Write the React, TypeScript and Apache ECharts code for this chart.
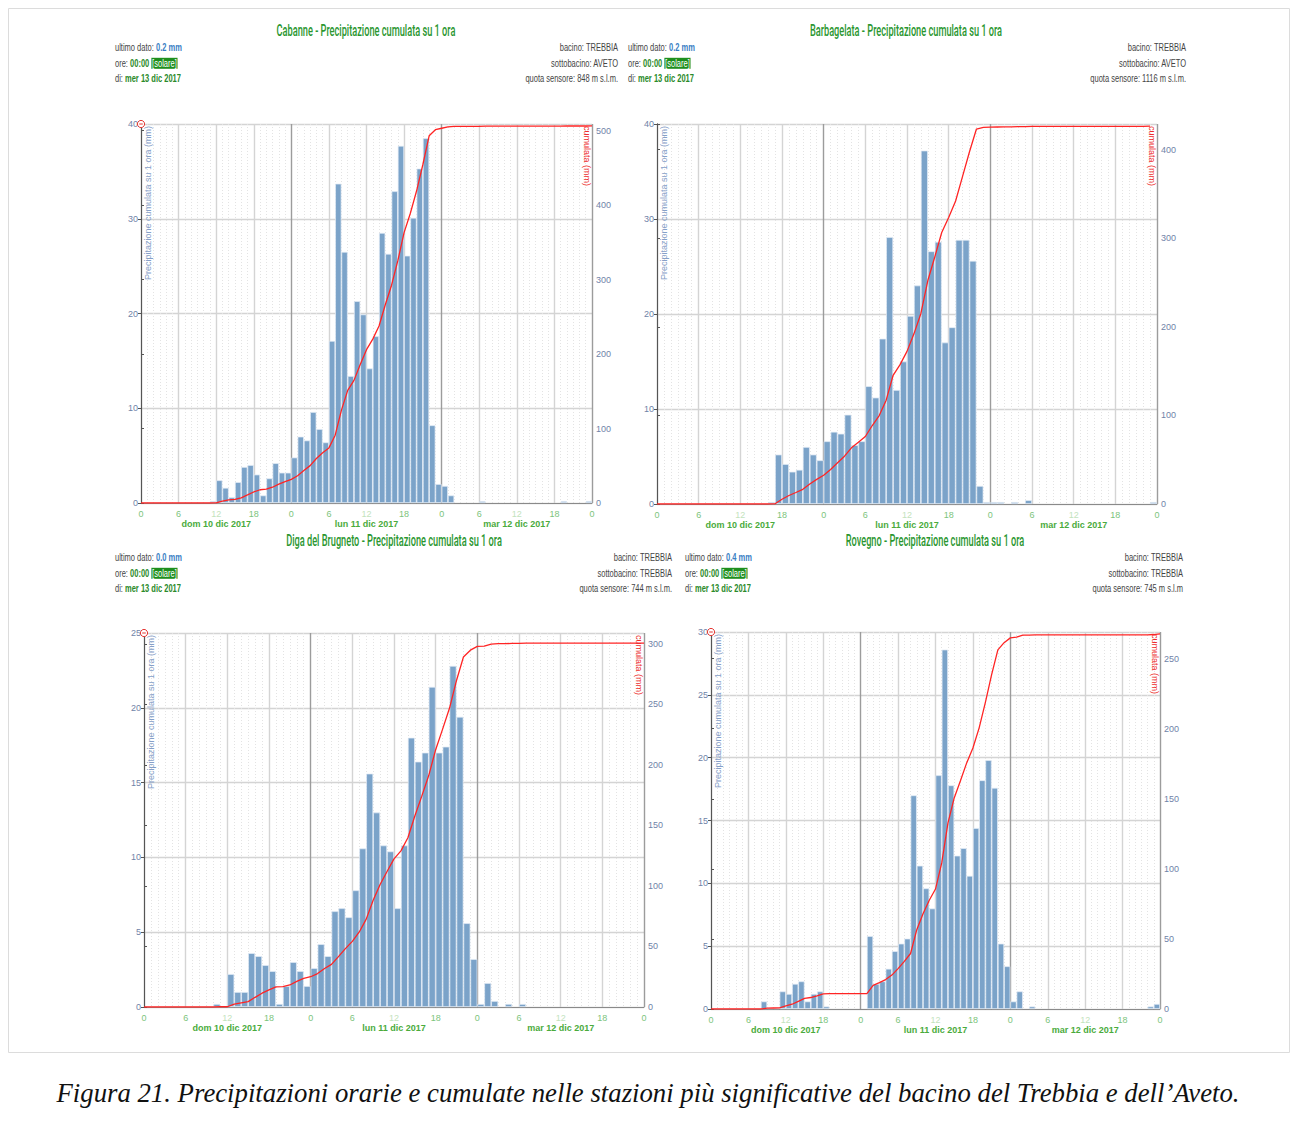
import React, { useEffect, useRef } from "react";
import * as echarts from "echarts";

// ---- data (hourly precipitation, mm; hour 0 = dom 10 dic 2017 00:00) ----
const CABANNE_HOURLY = [
  0, 0, 0, 0, 0, 0, 0, 0, 0, 0, 0,
  0.2, 2.4, 1.6, 0.6, 2.2, 3.8, 4.0, 3.0, 0.8, 2.6, 4.2, 3.2, 3.2,
  4.8, 7.0, 6.6, 9.6, 7.8, 6.4, 17.1, 33.7, 26.5, 13.4, 21.3, 19.9,
  14.2, 17.6, 28.5, 26.3, 32.9, 37.7, 26.1, 30.1, 35.3, 38.5, 8.2, 2.0,
  1.8, 0.8, 0, 0, 0, 0, 0.2, 0, 0, 0, 0, 0,
  0, 0, 0, 0, 0, 0, 0, 0.2, 0, 0, 0, 0.2,
];
const CABANNE_CUMUL = [
  0, 0, 0, 0, 0, 0, 0, 0, 0, 0, 0, 0,
  0.2, 2.6, 4.2, 4.8, 7.0, 10.8, 14.8, 17.8, 18.6, 21.2, 25.4, 28.6,
  31.8, 36.6, 43.6, 50.2, 59.8, 67.6, 74.0, 91.1, 124.8, 151.3, 164.7, 186.0,
  205.9, 220.1, 237.7, 266.2, 292.5, 325.4, 363.1, 389.2, 419.3, 454.6, 493.1, 501.3,
  503.3, 505.1, 505.9, 505.9, 505.9, 505.9, 505.9, 506.1, 506.1, 506.1, 506.1, 506.1,
  506.1, 506.1, 506.1, 506.1, 506.1, 506.1, 506.1, 506.1, 506.3, 506.3, 506.3, 506.3, 506.5,
];
const BARBAGELATA_HOURLY = [
  0, 0, 0, 0, 0, 0, 0, 0, 0, 0, 0, 0, 0, 0, 0, 0,
  0.2, 5.2, 4.2, 3.4, 3.6, 6.0, 5.2, 4.6, 6.6, 7.6, 7.4, 9.4,
  6.2, 6.6, 12.4, 11.2, 17.4, 28.1, 12.0, 15.0, 19.8, 23.0, 37.2, 26.6,
  27.6, 17.0, 18.6, 27.8, 27.8, 25.6, 1.9, 0.2, 0.2, 0.2, 0, 0.2,
  0, 0.4, 0, 0, 0, 0, 0, 0, 0, 0, 0, 0, 0, 0, 0, 0, 0, 0, 0, 0.2,
];
const BARBAGELATA_CUMUL = [
  0, 0, 0, 0, 0, 0, 0, 0, 0, 0, 0, 0, 0, 0, 0, 0, 0,
  0.2, 5.4, 9.6, 13.0, 16.6, 22.6, 27.8, 32.4, 39.0, 46.6, 54.0, 63.4,
  69.6, 76.2, 88.6, 99.8, 117.2, 145.3, 157.3, 172.3, 192.1, 215.1, 252.3, 278.9,
  306.5, 323.5, 342.1, 369.9, 397.7, 423.3, 425.2, 425.4, 425.6, 425.8, 425.8, 426.0,
  426.0, 426.4, 426.4, 426.4, 426.4, 426.4, 426.4, 426.4, 426.4, 426.4, 426.4, 426.4,
  426.4, 426.4, 426.4, 426.4, 426.4, 426.4, 426.6,
];
const BRUGNETO_HOURLY = [
  0, 0, 0, 0, 0, 0, 0, 0, 0, 0,
  0.2, 0, 2.2, 1.0, 1.0, 3.6, 3.4, 2.8, 2.4, 0.2, 1.4, 3.0,
  2.4, 1.4, 2.6, 4.2, 3.4, 6.4, 6.6, 6.0, 7.8, 10.6, 15.6, 13.0,
  10.8, 10.4, 6.6, 10.8, 18.0, 16.4, 17.0, 21.4, 17.0, 17.4, 22.8, 19.4,
  5.6, 3.2, 0.2, 1.6, 0.4, 0, 0.2, 0, 0.2, 0, 0, 0,
  0, 0, 0, 0, 0, 0, 0, 0, 0, 0, 0, 0, 0, 0,
];
const BRUGNETO_CUMUL = [
  0, 0, 0, 0, 0, 0, 0, 0, 0, 0, 0,
  0.2, 0.2, 2.4, 3.4, 4.4, 8.0, 11.4, 14.2, 16.6, 16.8, 18.2, 21.2,
  23.6, 25.0, 27.6, 31.8, 35.2, 41.6, 48.2, 54.2, 62.0, 72.6, 88.2, 101.2,
  112.0, 122.4, 129.0, 139.8, 157.8, 174.2, 191.2, 212.6, 229.6, 247.0, 269.8, 289.2,
  294.8, 298.0, 298.2, 299.8, 300.2, 300.2, 300.4, 300.4, 300.6, 300.6, 300.6, 300.6,
  300.6, 300.6, 300.6, 300.6, 300.6, 300.6, 300.6, 300.6, 300.6, 300.6, 300.6, 300.6, 300.6, 300.6,
];
const ROVEGNO_HOURLY = [
  0, 0, 0, 0, 0, 0, 0, 0,
  0.6, 0.1, 0.1, 1.4, 1.2, 2.0, 2.2, 0.6, 1.2, 1.4, 0.2, 0,
  0, 0, 0, 0, 0, 5.8, 2.0, 2.2, 3.2, 4.6, 5.2, 5.6,
  17.0, 11.4, 9.6, 8.0, 18.6, 28.6, 17.8, 12.2, 12.8, 10.6, 14.4, 18.2,
  19.8, 17.6, 5.2, 3.4, 0.6, 1.4, 0, 0.2, 0, 0, 0, 0,
  0, 0, 0, 0, 0, 0, 0, 0, 0, 0, 0, 0, 0, 0, 0.2, 0.4,
];
const ROVEGNO_CUMUL = [
  0, 0, 0, 0, 0, 0, 0, 0, 0,
  0.6, 0.7, 0.8, 2.2, 3.4, 5.4, 7.6, 8.2, 9.4, 10.8, 11.0, 11.0,
  11.0, 11.0, 11.0, 11.0, 11.0, 16.8, 18.8, 21.0, 24.2, 28.8, 34.0, 39.6,
  56.6, 68.0, 77.6, 85.6, 104.2, 132.8, 150.6, 162.8, 175.6, 186.2, 200.6, 218.8,
  238.6, 256.2, 261.4, 264.8, 265.4, 266.8, 266.8, 267.0, 267.0, 267.0, 267.0, 267.0,
  267.0, 267.0, 267.0, 267.0, 267.0, 267.0, 267.0, 267.0, 267.0, 267.0, 267.0, 267.0, 267.0, 267.0, 267.2, 267.6,
];

const HOURLY = [CABANNE_HOURLY, BARBAGELATA_HOURLY, BRUGNETO_HOURLY, ROVEGNO_HOURLY];
const CUMUL = [CABANNE_CUMUL, BARBAGELATA_CUMUL, BRUGNETO_CUMUL, ROVEGNO_CUMUL];

const HOUR_TICK_LABELS = ["0", "6", "12", "18", "0", "6", "12", "18", "0", "6", "12", "18", "0"];
const DAY_TICK_HOURS = [12, 36, 60];
const DAY_LABELS = ["dom 10 dic 2017", "lun 11 dic 2017", "mar 12 dic 2017"];

const STATIONS = ["Cabanne", "Barbagelata", "Diga del Brugneto", "Rovegno"];
const LAST_VALUES = ["0.2 mm", "0.2 mm", "0.0 mm", "0.4 mm"];
const BACINI = ["TREBBIA", "TREBBIA", "TREBBIA", "TREBBIA"];
const SOTTOBACINI = ["AVETO", "AVETO", "TREBBIA", "TREBBIA"];
const QUOTE = ["848 m s.l.m.", "1116 m s.l.m.", "744 m s.l.m.", "745 m s.l.m"];
const LEFT_MAX = [40, 40, 25, 30];
const LEFT_STEP = [10, 10, 5, 5];
const RIGHT_MAX = [509, 429, 309, 269];
const RIGHT_STEP = [100, 100, 50, 50];

const CAPTION =
  "Figura 21. Precipitazioni orarie e cumulate nelle stazioni più significative del bacino del Trebbia e dell\u2019Aveto.";

// ---- layout (positions / sizes) ----
const LAYOUT = [
  { grid: { left: 141, top: 124, width: 451, height: 379 }, titleX: 366, titleY: 30, infoL: 115, infoR: 618, infoY: 48, marker: true },
  { grid: { left: 657, top: 124, width: 500, height: 380 }, titleX: 906, titleY: 30, infoL: 628, infoR: 1186, infoY: 48, marker: false },
  { grid: { left: 144, top: 633, width: 500, height: 374 }, titleX: 394, titleY: 540, infoL: 115, infoR: 672, infoY: 558, marker: true },
  { grid: { left: 711, top: 632, width: 449, height: 377 }, titleX: 935, titleY: 540, infoL: 685, infoR: 1183, infoY: 558, marker: true },
];

function measure(text: string, font: string): number {
  const c = document.createElement("canvas").getContext("2d");
  if (!c) return text.length * 6;
  c.font = font;
  return c.measureText(text).width;
}

function buildOption() {
  const titleFont = '500 17px Roboto';
  const titleScale = 179 / measure(STATIONS[0] + " - Precipitazione cumulata su 1 ora", titleFont);
  const infoScale = 66 / measure("ultimo dato: 0.2 mm", '10px "Liberation Sans"');
  const capSize = (20 * 1183) / measure(CAPTION, 'italic 20px "Liberation Serif"');

  const grids: any[] = [];
  const xAxes: any[] = [];
  const yAxes: any[] = [];
  const series: any[] = [];
  const graphics: any[] = [];

  const sans = '"Liberation Sans", Arial, sans-serif';
  const narrow = '"Liberation Sans Narrow", "Arial Narrow", "Liberation Sans", Arial, sans-serif';

  graphics.push({
    type: "rect",
    z: -10,
    shape: { x: 8.5, y: 8.5, width: 1281, height: 1044 },
    style: { fill: "none", stroke: "#dcdcdc", lineWidth: 1 },
  });

  LAYOUT.forEach((L, i) => {
    const { left, top, width } = L.grid;
    const right = left + width;
    grids.push({ ...L.grid, containLabel: false, outerBoundsMode: "none" });

    xAxes.push({
      type: "value",
      gridIndex: i,
      min: 0,
      max: 72,
      interval: 6,
      axisLine: { show: true, lineStyle: { color: "#8a8a8a", width: 1 } },
      axisTick: { show: false },
      axisLabel: {
        fontSize: 9,
        lineHeight: 10,
        fontFamily: sans,
        color: "#7cc47c",
        margin: 6,
        formatter: (v: number) => {
          const lab = HOUR_TICK_LABELS[Math.round(v / 6)] ?? "";
          return DAY_TICK_HOURS.indexOf(v) >= 0 ? "{l|" + lab + "}" : lab;
        },
        rich: { l: { color: "#c3e3bd", fontSize: 9, lineHeight: 10, fontFamily: sans } },
      },
      splitLine: { show: true, lineStyle: { color: ["#9c9c9c", "#d4d4d4", "#d4d4d4", "#d4d4d4"], width: 1.4 } },
      minorTick: { show: false, splitNumber: 6 },
      minorSplitLine: { show: true, lineStyle: { color: "#e3e3e3", type: [1, 2], width: 1 } },
    });
    xAxes.push({
      type: "value",
      gridIndex: i,
      min: 0,
      max: 72,
      position: "bottom",
      axisLine: { show: false },
      axisTick: { show: false },
      splitLine: { show: false },
      axisLabel: {
        customValues: DAY_TICK_HOURS,
        formatter: (v: number) => DAY_LABELS[DAY_TICK_HOURS.indexOf(v)] ?? "",
        color: "#4aab3c",
        fontWeight: "bold",
        fontSize: 9,
        lineHeight: 10,
        fontFamily: narrow,
        margin: 16,
      },
    });

    yAxes.push({
      type: "value",
      gridIndex: i,
      position: "left",
      min: 0,
      max: LEFT_MAX[i],
      interval: LEFT_STEP[i],
      axisLine: { show: true, lineStyle: { color: "#555", width: 1 } },
      axisTick: { show: true, length: 3, lineStyle: { color: "#555" } },
      axisLabel: { color: "#7083a8", fontSize: 9, fontFamily: sans, margin: 3 },
      splitLine: { show: true, lineStyle: { color: "#d4d4d4", width: 1.4 } },
    });
    yAxes.push({
      type: "value",
      gridIndex: i,
      position: "right",
      min: 0,
      max: RIGHT_MAX[i],
      interval: RIGHT_STEP[i],
      axisLine: { show: true, lineStyle: { color: "#555", width: 1 } },
      axisTick: { show: true, length: 3, lineStyle: { color: "#555" } },
      axisLabel: {
        color: "#7083a8",
        fontSize: 9,
        fontFamily: sans,
        margin: 4,
        formatter: (v: number) => (Math.abs(v % RIGHT_STEP[i]) < 1e-6 ? String(v) : ""),
      },
      splitLine: { show: false },
    });

    series.push({
      type: "bar",
      xAxisIndex: 2 * i,
      yAxisIndex: 2 * i,
      barWidth: "100%",
      data: HOURLY[i].map((v, h) => [h + 0.5, v === 0 ? "-" : v]),
      itemStyle: { color: "#7ba3c9", borderColor: "#e4edf6", borderWidth: 0.7 },
      silent: true,
      z: 2,
    });
    series.push({
      type: "line",
      xAxisIndex: 2 * i,
      yAxisIndex: 2 * i + 1,
      data: CUMUL[i].map((v, t) => [t, v]),
      symbol: "none",
      lineStyle: { color: "#ff2424", width: 1.3 },
      silent: true,
      z: 4,
    });

    // title
    graphics.push({
      type: "text",
      x: L.titleX,
      y: L.titleY,
      scaleX: titleScale,
      style: {
        text: STATIONS[i] + " - Precipitazione cumulata su 1 ora",
        fontSize: 17,
        fontWeight: 500,
        fontFamily: "Roboto, sans-serif",
        fill: "#2a962f",
        align: "center",
        verticalAlign: "middle",
      },
    });

    const base = { fontSize: 10, fontFamily: sans };
    const rich = {
      g: { ...base, fill: "#444" },
      v: { ...base, fill: "#3b7fc4", fontWeight: "bold" },
      gb: { ...base, fill: "#2a8a2a", fontWeight: "bold" },
      s: { ...base, fill: "#ffffff", backgroundColor: "#1e8f1e", padding: [1, 1, 0, 1] },
    };
    const leftLines = [
      "{g|ultimo dato: }{v|" + LAST_VALUES[i] + "}",
      "{g|ore: }{gb|00:00} {s|[solare]}",
      "{g|di: }{gb|mer 13 dic 2017}",
    ];
    leftLines.forEach((t, k) => {
      graphics.push({
        type: "text",
        x: L.infoL,
        y: L.infoY + k * 15.3,
        scaleX: infoScale,
        style: { text: t, rich, ...base, fill: "#444", align: "left", verticalAlign: "middle" },
      });
    });
    const rightLines = ["bacino: " + BACINI[i], "sottobacino: " + SOTTOBACINI[i], "quota sensore: " + QUOTE[i]];
    rightLines.forEach((t, k) => {
      graphics.push({
        type: "text",
        x: L.infoR,
        y: L.infoY + k * 15.3,
        scaleX: infoScale,
        style: { text: t, ...base, fill: "#444", align: "right", verticalAlign: "middle" },
      });
    });

    // axis names
    graphics.push({
      type: "text",
      x: left + 7,
      y: top + 2,
      rotation: Math.PI / 2,
      z: 10,
      style: {
        text: "Precipitazione cumulata su 1 ora (mm)",
        fontSize: 9,
        fontFamily: sans,
        fill: "#86a0c8",
        align: "right",
        verticalAlign: "middle",
      },
    });
    graphics.push({
      type: "text",
      x: right - 5,
      y: top + 2,
      rotation: -Math.PI / 2,
      z: 10,
      style: {
        text: "cumulata (mm)",
        fontSize: 9,
        fontFamily: sans,
        fill: "#ee2c2c",
        align: "left",
        verticalAlign: "middle",
      },
    });

    if (L.marker) {
      graphics.push({
        type: "circle",
        z: 20,
        shape: { cx: left, cy: top, r: 3.6 },
        style: { fill: "#fff", stroke: "#e53935", lineWidth: 1 },
      });
      graphics.push({
        type: "line",
        z: 21,
        shape: { x1: left - 1.8, y1: top, x2: left + 1.8, y2: top },
        style: { stroke: "#e53935", lineWidth: 1 },
      });
    }
  });

  graphics.push({
    type: "text",
    x: 648,
    y: 1093,
    style: {
      text: CAPTION,
      fontSize: capSize,
      fontStyle: "italic",
      fontFamily: '"Liberation Serif", "Times New Roman", serif',
      fill: "#111",
      align: "center",
      verticalAlign: "middle",
    },
  });

  return {
    animation: false,
    backgroundColor: "#ffffff",
    grid: grids,
    xAxis: xAxes,
    yAxis: yAxes,
    series,
    graphic: graphics,
  };
}

export default function App() {
  const ref = useRef<HTMLDivElement>(null);
  useEffect(() => {
    if (!ref.current) return;
    const chart = echarts.init(ref.current, null, { renderer: "svg" });
    chart.setOption(buildOption() as any);
    return () => chart.dispose();
  }, []);
  return (
    <div
      ref={ref}
      style={{ position: "absolute", left: 0, top: 0, width: 1292, height: 1142, background: "#fff" }}
    />
  );
}
